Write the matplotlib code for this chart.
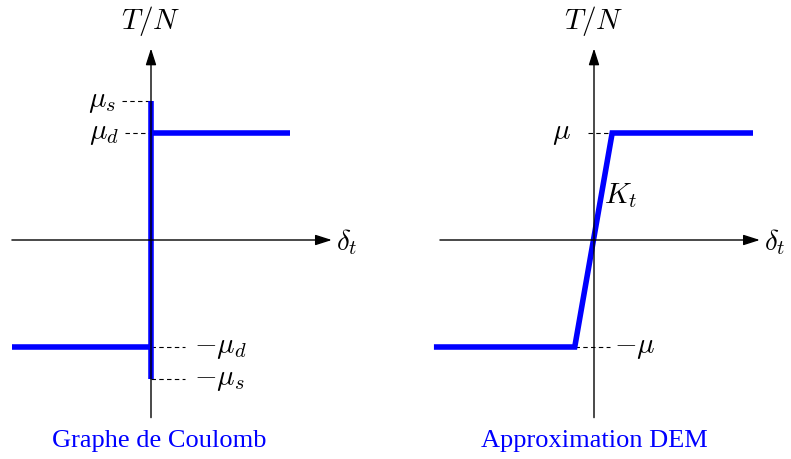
import matplotlib.pyplot as plt

# --- données (unités : T/N pour y, delta_t pour x) ---
mu_s = 1.3
mu_d = 1.0
mu = 1.0

# graphe de Coulomb : palier bas, saut vertical, palier haut
coul_bas_x = [-1.30, 0.0]
coul_bas_y = [-mu_d, -mu_d]
coul_vert_x = [0.0, 0.0]
coul_vert_y = [-mu_s, mu_s]
coul_haut_x = [0.0, 1.30]
coul_haut_y = [mu_d, mu_d]

# approximation DEM : palier, rampe de raideur K_t, palier
dem_x = [-1.47, -0.18, 0.17, 1.46]
dem_y = [-mu, -mu, mu, mu]

bleu = "#0000ff"
plt.rcParams["mathtext.fontset"] = "cm"
taille = 21

fig = plt.figure(figsize=(7.91, 4.59), dpi=100)
ax1 = fig.add_axes([0, 0, 395 / 791, 1])
ax2 = fig.add_axes([395 / 791, 0, 396 / 791, 1])

ech = 107.0  # pixels par unité
ax1.set_xlim(-151 / ech, (395 - 151) / ech)
ax2.set_xlim((395 - 594) / ech, (791 - 594) / ech)
for ax in (ax1, ax2):
    ax.set_ylim((240 - 459) / ech, 240 / ech)
    ax.axis("off")


def axes_fleches(ax, xmin, xmax, ymin, ymax):
    fl = dict(arrowstyle="-|>,head_length=1.0,head_width=0.32", color="black",
              lw=1.0, shrinkA=0, shrinkB=0)
    ax.annotate("", xy=(xmax, 0), xytext=(xmin, 0), arrowprops=fl)
    ax.annotate("", xy=(0, ymax), xytext=(0, ymin), arrowprops=fl)
    ax.text(xmax + 0.04, -0.02, r"$\delta_t$", fontsize=taille, ha="left", va="center")
    ax.text(0, ymax + 0.10, r"$T/N$", fontsize=taille, ha="center", va="bottom")


def tiret(ax, x0, x1, y):
    ax.plot([x0, x1], [y, y], color="black", lw=0.8, ls=(0, (4, 3)))


# ---- panneau gauche ----
axes_fleches(ax1, -1.30, 1.69, -1.66, 1.79)
tiret(ax1, -0.27, 0, mu_s)
tiret(ax1, -0.24, 0, mu_d)
tiret(ax1, 0, 0.32, -mu_d)
tiret(ax1, 0, 0.32, -mu_s)
ax1.plot(coul_bas_x, coul_bas_y, color=bleu, lw=4, solid_capstyle="butt")
ax1.plot(coul_haut_x, coul_haut_y, color=bleu, lw=4, solid_capstyle="butt")
ax1.plot(coul_vert_x, coul_vert_y, color=bleu, lw=4, solid_capstyle="butt")
ax1.text(-0.33, mu_s, r"$\mu_s$", fontsize=taille, ha="right", va="center")
ax1.text(-0.30, mu_d, r"$\mu_d$", fontsize=taille, ha="right", va="center")
ax1.text(0.40, -mu_d, r"$-\mu_d$", fontsize=taille, ha="left", va="center")
ax1.text(0.40, -mu_s, r"$-\mu_s$", fontsize=taille, ha="left", va="center")
ax1.text(0.08, -1.88, "Graphe de Coulomb", fontsize=19, color=bleu,
         family="Liberation Serif", ha="center", va="center")

# ---- panneau droit ----
axes_fleches(ax2, -1.44, 1.55, -1.66, 1.79)
tiret(ax2, -0.06, dem_x[2], mu)
tiret(ax2, dem_x[1], 0.15, -mu)
ax2.plot(dem_x, dem_y, color=bleu, lw=4, solid_joinstyle="miter")
ax2.text(-0.22, mu, r"$\mu$", fontsize=taille, ha="right", va="center")
ax2.text(0.19, -mu, r"$-\mu$", fontsize=taille, ha="left", va="center")
ax2.text(0.09, 0.42, r"$K_t$", fontsize=taille, ha="left", va="center")
ax2.text(0.0, -1.88, "Approximation DEM", fontsize=19, color=bleu,
         family="Liberation Serif", ha="center", va="center")

fig.savefig("out.png", dpi=100)
